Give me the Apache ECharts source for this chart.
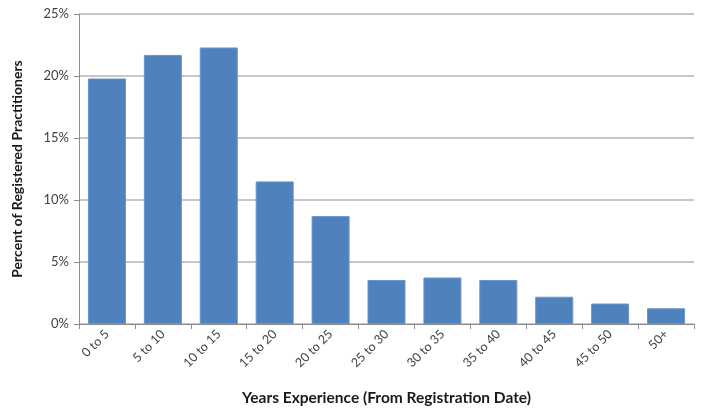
<!DOCTYPE html>
<html><head><meta charset="utf-8">
<script src="https://cdn.jsdelivr.net/npm/echarts@6/dist/echarts.min.js"></script>
<style>html,body{margin:0;padding:0;background:#fff}#c{width:708px;height:415px}</style>
</head><body><div id="c"></div>
<script>
const categories = ['0 to 5','5 to 10','10 to 15','15 to 20','20 to 25','25 to 30','30 to 35','35 to 40','40 to 45','45 to 50','50+'];
const percentValues = [19.8, 21.7, 22.3, 11.5, 8.7, 3.55, 3.75, 3.55, 2.2, 1.65, 1.27];
const yTicks = [0, 5, 10, 15, 20, 25];
const xTitle = 'Years Experience (From Registration Date)';
const yTitle = 'Percent of Registered Practitioners';

const font = 'Lato, "Open Sans", sans-serif';
const chart = echarts.init(document.getElementById('c'));
chart.setOption({
  animation: false,
  grid: {left: 79, right: 14, top: 14, bottom: 91},
  xAxis: {
    type: 'category', data: categories,
    name: xTitle, nameLocation: 'middle', nameGap: 66,
    nameTextStyle: {fontFamily: font, fontWeight: 'bold', fontSize: 15.5, color: '#1a1a1a'},
    axisLine: {lineStyle: {color: '#8c8c8c', width: 1}},
    axisTick: {show: true, alignWithLabel: false, length: 5, lineStyle: {color: '#8c8c8c'}},
    axisLabel: {rotate: 45, interval: 0, fontFamily: font, fontSize: 12.5, color: '#404040', margin: 8}
  },
  yAxis: {
    type: 'value', min: yTicks[0], max: yTicks[yTicks.length-1], interval: 5,
    name: yTitle, nameLocation: 'middle', nameGap: 55,
    nameTextStyle: {fontFamily: font, fontWeight: 'bold', fontSize: 14, color: '#1a1a1a'},
    axisLine: {show: true, lineStyle: {color: '#8c8c8c'}},
    axisTick: {show: true, length: 5, lineStyle: {color: '#8c8c8c'}},
    axisLabel: {formatter: v => v + '%', fontFamily: font, fontSize: 13, color: '#404040', margin: 10},
    splitLine: {lineStyle: {color: '#b4b4b4', width: 1.5}}
  },
  series: [{
    type: 'bar', data: percentValues, barCategoryGap: '32%',
    itemStyle: {color: '#4f81bd', borderColor: '#6a96cc', borderWidth: 1}
  }]
});
</script></body></html>
